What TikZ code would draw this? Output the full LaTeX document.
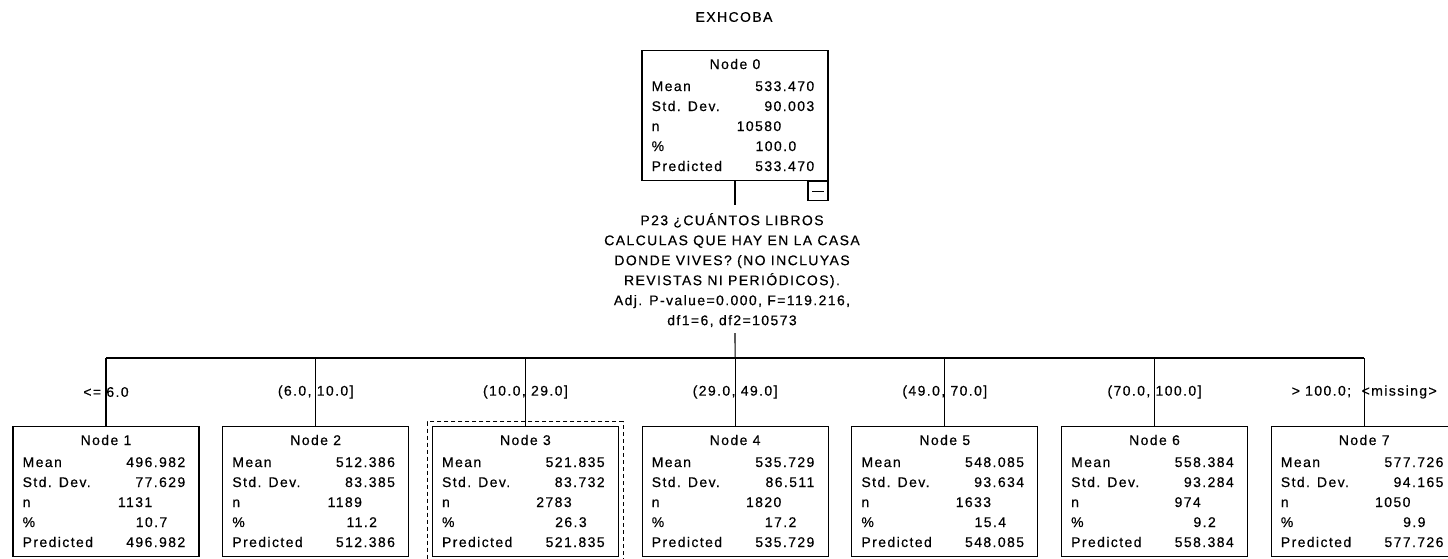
\documentclass[tikz,border=0pt]{standalone}
\usepackage{fontspec}
\setmainfont{Liberation Sans}
\newfontfamily\widefont[LetterSpace=10, FakeBold=0.4]{Liberation Sans}
\usetikzlibrary{calc}

\tikzset{
  box/.style={draw, line width=1.1pt, minimum width=186, minimum height=130, inner sep=0},
  word/.style={inner sep=0, font=\widefont\fontsize{14}{20}\selectfont},
  num/.style={word},
  wire/.style={line width=1.1pt}
}

% the five rows of one tree node
\newcommand{\statrows}[5]{%
  \node[word, anchor=base west] (#1-a) at ($(#1.north west)+(10,41)$) {Mean};
  \node[num, anchor=base east] (#1-av) at ($(#1.north west)+(173,41)$) {#2};
  \node[word, anchor=base west] (#1-b) at ($(#1.north west)+(10,61)$) {Std. Dev.};
  \node[num, anchor=base east] (#1-bv) at ($(#1.north west)+(173,61)$) {#3};
  \node[word, anchor=base west] (#1-c) at ($(#1.north west)+(10,81)$) {n};
  \node[num, anchor=base east] (#1-cv) at ($(#1.north west)+(140,81)$) {#4};
  \node[word, anchor=base west] (#1-d) at ($(#1.north west)+(10,101)$) {\%};
  \node[num, anchor=base east] (#1-dv) at ($(#1.north west)+(155,101)$) {#5};
  \node[word, anchor=base west] (#1-e) at ($(#1.north west)+(10,121)$) {Predicted};
  \node[num, anchor=base east] (#1-ev) at ($(#1.north west)+(173,121)$) {#2};
}

\begin{document}
\begin{tikzpicture}[x=1pt, y=-1pt]
  \useasboundingbox[fill=white] (0,0) rectangle (1448,558);
  \clip (0,0) rectangle (1448,558);

  \node[word] (title) at (734,17) {EXHCOBA};

  % root
  \node[box, anchor=north] (n0) at (735,50) {};
  \node[word, anchor=base] (n0-t) at ($(n0.north)+(0,19)$) {Node 0};
  \statrows{n0}{533.470}{90.003}{10580}{100.0}
  \node[draw, line width=1.1pt, minimum width=20, minimum height=19, inner sep=0,
        anchor=north east] (fold) at (n0.south east) {};
  \draw[wire] ($(fold.center)+(-6,0)$) -- ($(fold.center)+(6,0)$);

  \coordinate (qtop) at (735,205);
  \coordinate (qbot) at (735,333);
  \node[word, align=center] (q) at (732,270) {P23 ¿CUÁNTOS LIBROS\\
    CALCULAS QUE HAY EN LA CASA\\
    DONDE VIVES? (NO INCLUYAS\\
    REVISTAS NI PERIÓDICOS).\\
    Adj. P-value=0.000, F=119.216,\\
    df1=6, df2=10573};
  \draw[wire] (n0.south) -- (qtop);

  % children
  \foreach \i/\x/\cut/\m/\s/\k/\p in {
      1/106/{<= 6.0}/496.982/77.629/1131/10.7,
      2/315.7/{(6.0, 10.0]}/512.386/83.385/1189/11.2,
      3/525.4/{(10.0, 29.0]}/521.835/83.732/2783/26.3,
      4/735.1/{(29.0, 49.0]}/535.729/86.511/1820/17.2,
      5/944.8/{(49.0, 70.0]}/548.085/93.634/1633/15.4,
      6/1154.5/{(70.0, 100.0]}/558.384/93.284/974/9.2,
      7/1364.2/{> 100.0;\ \ <missing>}/577.726/94.165/1050/9.9}{
    \coordinate (c\i) at (\x,358);
    \node[box, anchor=north] (n\i) at (\x,426) {};
    \node[word, anchor=base] (n\i-t) at ($(n\i.north)+(0,19)$) {Node \i};
    \statrows{n\i}{\m}{\s}{\k}{\p}
    \draw[wire] (c\i) -- (n\i.north);
    \node[word] (s\i) at (\x,392) {\cut};
  }
  \draw[wire] (qbot) -- (c4);
  \draw[wire] (c1) -- (c7);

  % selected node
  \node[draw, line width=1.1pt, dash pattern=on 4pt off 3pt, minimum width=196,
        minimum height=140, anchor=north] (sel) at ($(n3.north)+(0,-5)$) {};
\end{tikzpicture}
\end{document}
